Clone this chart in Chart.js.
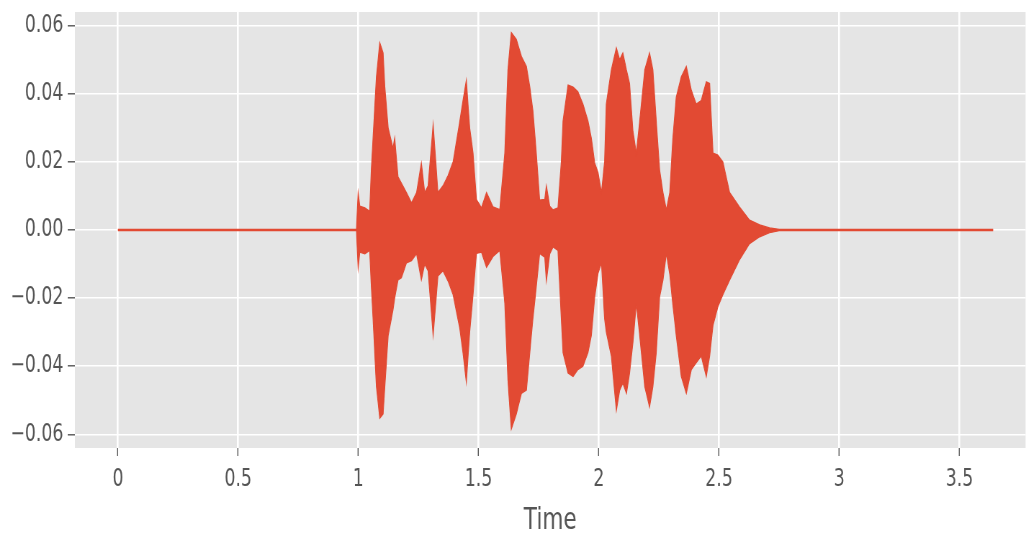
<!DOCTYPE html>
<html>
<head>
<meta charset="utf-8">
<script src="https://cdn.jsdelivr.net/npm/chart.js@4.4.0/dist/chart.umd.min.js"></script>
<style>
  html, body { margin: 0; padding: 0; background: #fff; overflow: hidden; }
  /* the source picture is squeezed sideways, so draw wide and squeeze */
  #wrap { width: 1425px; height: 536px; transform: scaleX(0.72); transform-origin: 0 0; }
</style>
</head>
<body>
<div id="wrap"><canvas id="wave"></canvas></div>
<script>
var xTicks = [0, 0.5, 1, 1.5, 2, 2.5, 3, 3.5];
var yTicks = [-0.06, -0.04, -0.02, 0, 0.02, 0.04, 0.06];

// envelope of the waveform (seconds / amplitude)
var waveTime = [
  0, 0.992, 0.999, 1.006, 1.027, 1.047, 1.054, 1.061, 1.075, 1.089,
  1.103, 1.110, 1.124, 1.144, 1.151, 1.165, 1.179, 1.200, 1.221, 1.242,
  1.262, 1.276, 1.290, 1.311, 1.331, 1.352, 1.373, 1.394, 1.422, 1.435,
  1.449, 1.463, 1.477, 1.491, 1.512, 1.533, 1.560, 1.588, 1.609, 1.622,
  1.636, 1.657, 1.678, 1.699, 1.713, 1.726, 1.740, 1.754, 1.775, 1.782,
  1.796, 1.810, 1.830, 1.844, 1.851, 1.872, 1.893, 1.913, 1.934, 1.955,
  1.969, 1.983, 1.997, 2.011, 2.024, 2.031, 2.052, 2.073, 2.087, 2.100,
  2.115, 2.128, 2.142, 2.156, 2.170, 2.191, 2.211, 2.225, 2.239, 2.253,
  2.267, 2.281, 2.295, 2.308, 2.322, 2.343, 2.364, 2.385, 2.405, 2.426,
  2.447, 2.461, 2.475, 2.495, 2.516, 2.544, 2.585, 2.627, 2.669, 2.710,
  2.750, 3.640
];
var waveUpper = [
  0.0002, 0.0002, 0.0110, 0.0070, 0.0065, 0.0055, 0.0180, 0.0270, 0.0450, 0.0550,
  0.0520, 0.0420, 0.0300, 0.0240, 0.0270, 0.0156, 0.0138, 0.0110, 0.0080, 0.0110,
  0.0197, 0.0110, 0.0130, 0.0310, 0.0110, 0.0130, 0.0160, 0.0200, 0.0320, 0.0380,
  0.0440, 0.0300, 0.0226, 0.0090, 0.0065, 0.0110, 0.0068, 0.0060, 0.0226, 0.0470,
  0.0580, 0.0560, 0.0510, 0.0480, 0.0420, 0.0350, 0.0226, 0.0088, 0.0090, 0.0130,
  0.0070, 0.0059, 0.0065, 0.0200, 0.0320, 0.0426, 0.0420, 0.0406, 0.0370, 0.0320,
  0.0270, 0.0197, 0.0168, 0.0110, 0.0200, 0.0370, 0.0470, 0.0535, 0.0500, 0.0520,
  0.0470, 0.0430, 0.0290, 0.0226, 0.0320, 0.0470, 0.0520, 0.0470, 0.0320, 0.0176,
  0.0110, 0.0059, 0.0110, 0.0270, 0.0390, 0.0450, 0.0480, 0.0410, 0.0370, 0.0380,
  0.0435, 0.0430, 0.0226, 0.0220, 0.0200, 0.0110, 0.0068, 0.0029, 0.0015, 0.0006,
  0.0002, 0.0002
];
var waveLower = [
  -0.0002, -0.0002, -0.0112, -0.0065, -0.0070, -0.0060, -0.0167, -0.0260, -0.0460, -0.0553,
  -0.0540, -0.0460, -0.0310, -0.0235, -0.0200, -0.0147, -0.0140, -0.0097, -0.0090, -0.0070,
  -0.0147, -0.0100, -0.0120, -0.0310, -0.0135, -0.0120, -0.0150, -0.0190, -0.0290, -0.0360,
  -0.0447, -0.0300, -0.0190, -0.0069, -0.0065, -0.0110, -0.0078, -0.0060, -0.0215, -0.0440,
  -0.0585, -0.0540, -0.0480, -0.0470, -0.0360, -0.0260, -0.0167, -0.0069, -0.0080, -0.0150,
  -0.0070, -0.0050, -0.0060, -0.0260, -0.0360, -0.0420, -0.0430, -0.0410, -0.0400, -0.0360,
  -0.0310, -0.0197, -0.0127, -0.0097, -0.0260, -0.0300, -0.0370, -0.0530, -0.0470, -0.0450,
  -0.0480, -0.0420, -0.0330, -0.0216, -0.0310, -0.0460, -0.0520, -0.0460, -0.0360, -0.0196,
  -0.0147, -0.0069, -0.0130, -0.0220, -0.0310, -0.0430, -0.0480, -0.0410, -0.0390, -0.0370,
  -0.0430, -0.0370, -0.0280, -0.0226, -0.0190, -0.0147, -0.0088, -0.0040, -0.0020, -0.0008,
  -0.0002, -0.0002
];

var waveColor = '#E24A33';
var textColor = '#555555';

function _each(arr, fn) { for (var i = 0; i < arr.length; i++) fn(arr[i], i); }

var upperPts = [], lowerPts = [];
_each(waveTime, function (t, i) {
  upperPts.push({ x: t, y: waveUpper[i] });
  lowerPts.push({ x: t, y: waveLower[i] });
});

// grey ggplot panel behind the grid
var panelBg = {
  id: 'panelBg',
  beforeDraw: function (chart) {
    var a = chart.chartArea, c = chart.ctx;
    c.save();
    c.fillStyle = '#E5E5E5';
    c.fillRect(a.left, a.top, a.right - a.left, a.bottom - a.top);
    c.restore();
  }
};

function yLabel(v) {
  if (v === 0) return '0.00';
  return (v < 0 ? '\u2212' : '') + Math.abs(v).toFixed(2);
}

var ctx = document.getElementById('wave').getContext('2d');
var waveChart = new Chart(ctx, {
  type: 'line',
  data: {
    datasets: [{
      data: upperPts,
      borderColor: waveColor,
      backgroundColor: waveColor,
      borderWidth: 1.2,
      pointRadius: 0,
      fill: '+1'
    }, {
      data: lowerPts,
      borderColor: waveColor,
      backgroundColor: waveColor,
      borderWidth: 1.2,
      pointRadius: 0,
      fill: false
    }]
  },
  options: {
    responsive: true,
    maintainAspectRatio: false,
    animation: false,
    devicePixelRatio: 1,
    layout: { padding: { top: 12, left: 0, right: 0, bottom: 0 } },
    plugins: { legend: { display: false }, tooltip: { enabled: false }, title: { display: false } },
    scales: {
      x: {
        type: 'linear',
        min: -0.179,
        max: 3.775,
        afterBuildTicks: function (s) { s.ticks = xTicks.map(function (v) { return { value: v }; }); },
        afterFit: function (s) { s.height = 88; s.paddingLeft = 0; s.paddingRight = 0; },
        border: { display: false },
        grid: { color: '#FFFFFF', lineWidth: 2.6, tickColor: textColor, tickLength: 8, tickWidth: 1.4 },
        ticks: {
          color: textColor,
          padding: 9,
          maxRotation: 0,
          font: { family: 'DejaVu Sans', size: 24 },
          callback: function (v) { return String(v); }
        },
        title: {
          display: true,
          text: 'Time',
          color: textColor,
          font: { family: 'DejaVu Sans', size: 30 },
          padding: { top: 0, bottom: -3 }
        }
      },
      y: {
        min: -0.064,
        max: 0.064,
        afterBuildTicks: function (s) { s.ticks = yTicks.map(function (v) { return { value: v }; }); },
        afterFit: function (s) { s.width = 104; s.paddingTop = 0; s.paddingBottom = 0; },
        border: { display: false },
        grid: { color: '#FFFFFF', lineWidth: 1.6, tickColor: textColor, tickLength: 10, tickWidth: 1.4 },
        ticks: {
          color: textColor,
          padding: 6,
          font: { family: 'DejaVu Sans', size: 24 },
          callback: yLabel
        }
      }
    }
  },
  plugins: [panelBg]
});
</script>
</body>
</html>
